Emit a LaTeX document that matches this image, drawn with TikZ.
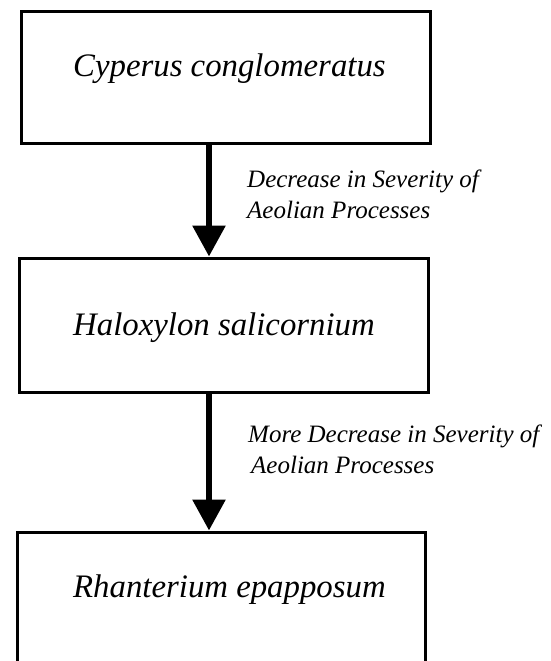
\documentclass[tikz,border=0pt]{standalone}
\usepackage{fontspec}
\setmainfont{Liberation Serif}
\usetikzlibrary{arrows.meta}
\begin{document}
\begin{tikzpicture}[x=1pt,y=-1pt,
  box/.style={draw, line width=3pt, rectangle, inner sep=0pt},
  species/.style={anchor=base west, inner sep=0pt, font=\fontsize{32.8}{39}\selectfont\itshape},
  lbl/.style={anchor=base west, inner sep=0pt, align=left, font=\fontsize{25}{31}\selectfont\itshape},
  flow/.style={line width=6pt, -{Triangle[width=32pt,length=31pt]}}]
\useasboundingbox (0,0) rectangle (550,661);
\fill[white] (0,0) rectangle (550,661);
\node[box, minimum width=409pt, minimum height=131pt] (b1) at (225.5,77.5) {};
\node[box, minimum width=409pt, minimum height=134pt] (b2) at (223.5,325) {};
\node[box, minimum width=408pt, minimum height=168pt] (b3) at (221,616) {};
\node[species] (t1) at (73,77) {Cyperus conglomeratus};
\node[species] (t2) at (73,335) {Haloxylon salicornium};
\node[species] (t3) at (73,597) {Rhanterium epapposum};
\coordinate (ax) at (209,0);
\draw[flow] (b1.south -| ax) -- (b2.north -| ax);
\draw[flow] (b2.south -| ax) -- (b3.north -| ax);
\node[lbl] (l1) at (247,218) {Decrease in Severity of\\Aeolian Processes};
\node[lbl] (l2) at (248,473) {More Decrease in Severity of\\\hspace{3pt}Aeolian Processes};
\end{tikzpicture}
\end{document}
